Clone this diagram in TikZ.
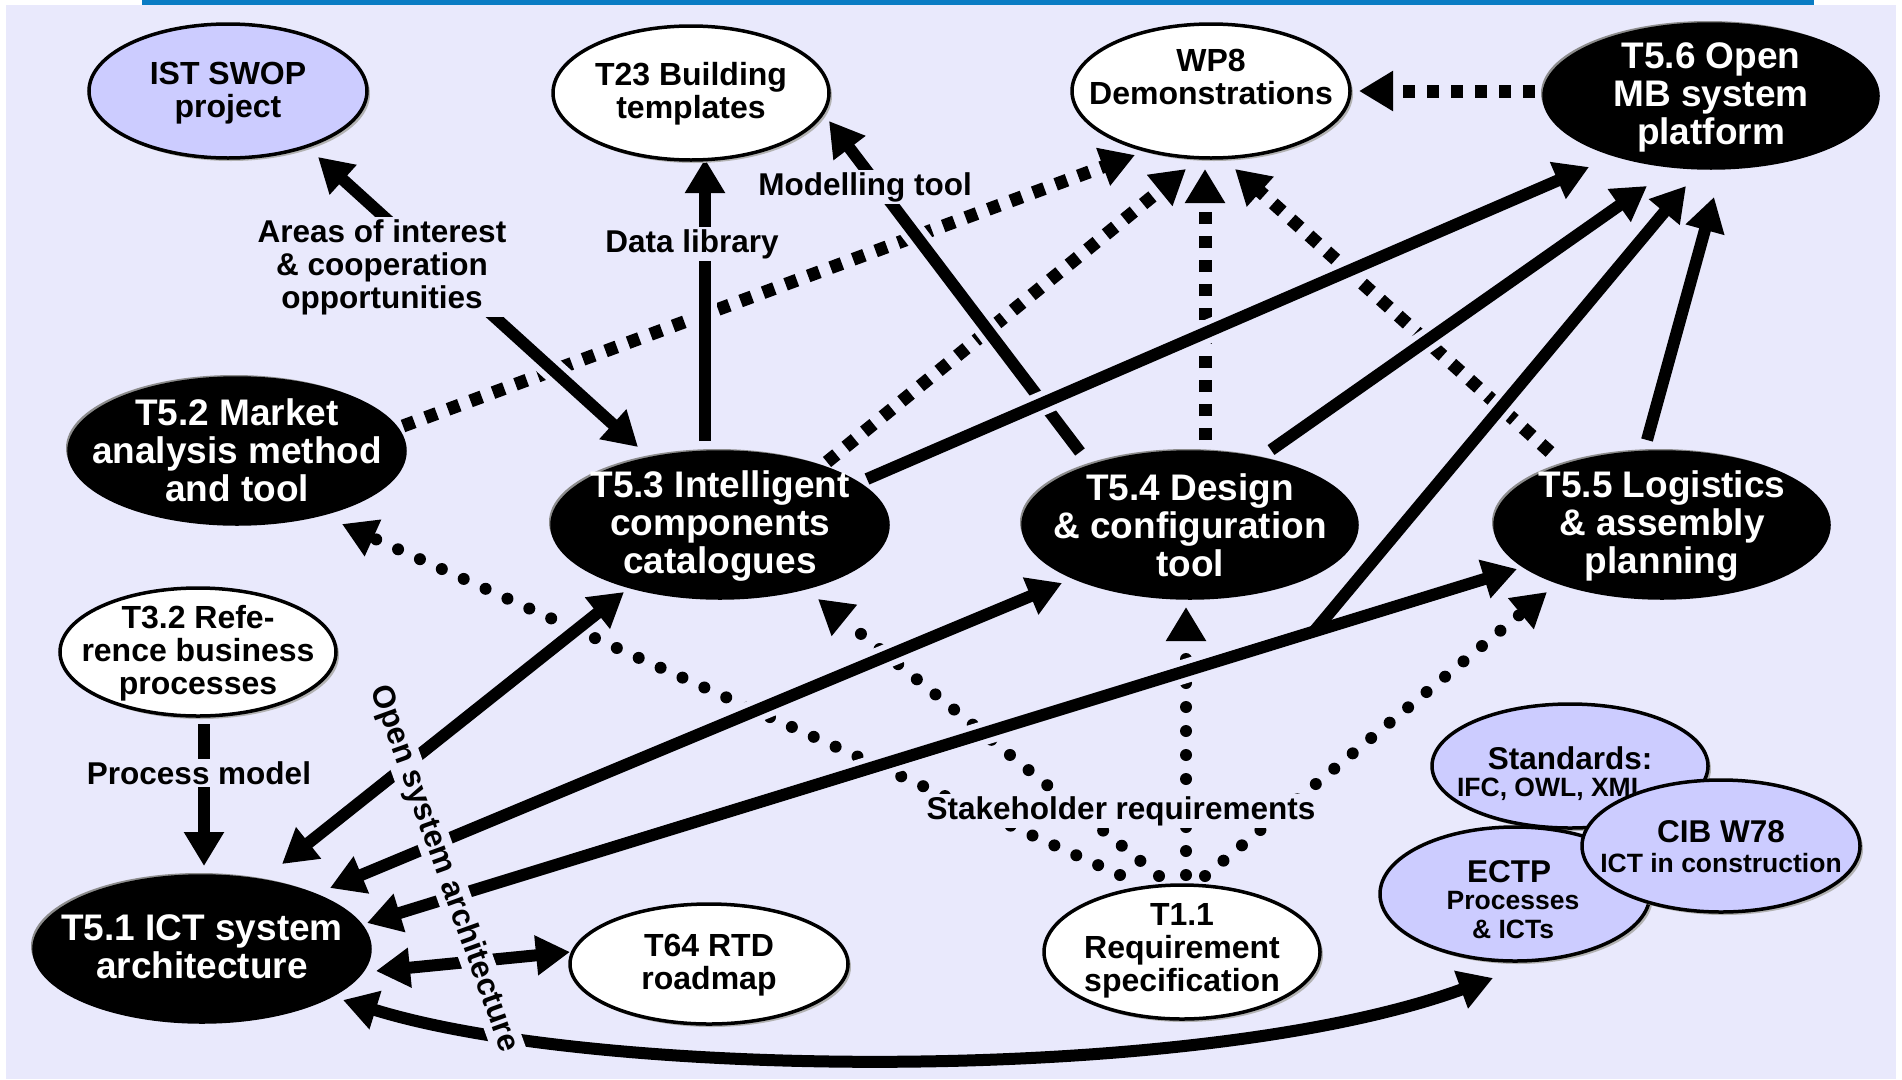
\documentclass[tikz,border=0pt]{standalone}
\usepackage{fontspec}
\setmainfont{Liberation Sans}
\usetikzlibrary{arrows.meta,shapes.geometric,calc,shadows}
\definecolor{bg}{RGB}{233,233,252}
\definecolor{lav}{RGB}{204,204,255}
\definecolor{topblue}{RGB}{10,124,196}
\pgfdeclarelayer{backdrop}
\pgfdeclarelayer{lines}
\pgfsetlayers{backdrop,lines,main}
\begin{document}
\begin{tikzpicture}[x=1pt,y=-1pt,
  >={Triangle[length=34pt,width=38pt]},
  ell/.style={ellipse, inner sep=0pt, outer sep=0pt, line width=3.5pt},
  whiteell/.style={ell, draw=black, fill=white, drop shadow={shadow xshift=3pt,shadow yshift=-3pt,fill=black!30,opacity=1}},
  lavell/.style={whiteell, fill=lav},
  blackell/.style={ell, draw=black, fill=black, drop shadow={shadow xshift=-3pt,shadow yshift=3pt,fill=black!45,opacity=1}},
  wtxt/.style={align=center, font=\bfseries\fontsize{32}{33}\selectfont, inner sep=0pt},
  btxt/.style={align=center, text=white, font=\bfseries\fontsize{37}{38}\selectfont, inner sep=0pt},
  mtxt/.style={align=center, font=\bfseries\fontsize{31.5}{33}\selectfont, inner sep=0pt},
  stxt/.style={align=center, font=\bfseries\fontsize{26.5}{29}\selectfont, inner sep=0pt},
  lbl/.style={align=center, fill=bg, font=\bfseries\fontsize{31.5}{33}\selectfont, inner sep=2pt},
  solidarr/.style={line width=12pt, preaction={draw=bg, line width=24pt, -}},
  halo/.style={draw=bg, line width=24pt},
  dasharr/.style={line width=13pt, dash pattern=on 12pt off 12pt, ->},
  dotarr/.style={line width=12pt, line cap=round, dash pattern=on 0pt off 24pt, ->},
]
\useasboundingbox (0,0) rectangle (1902,1079);
\begin{pgfonlayer}{backdrop}
\fill[white] (0,0) rectangle (1902,1079);
\fill[bg] (6,5) rectangle (1896,1079);
\fill[topblue] (142,0) rectangle (1814,5);
\end{pgfonlayer}

% ---------- ellipses ----------
\node[lavell, minimum width=278pt, minimum height=134pt] (ist) at (228,91) {};
\node[wtxt] (isttxt) at (228,93) {IST SWOP\\project};
\node[whiteell, minimum width=276pt, minimum height=134pt] (t23) at (691,93) {};
\node[wtxt] (t23txt) at (691,94) {T23 Building\\templates};
\node[whiteell, minimum width=278pt, minimum height=134pt] (wp8) at (1211,91) {};
\node[wtxt] (wp8txt) at (1211,77) {WP8\\Demonstrations};
\node[blackell, minimum width=334pt, minimum height=144pt] (t56) at (1711,96) {};
\node[btxt] (t56txt) at (1711,97) {T5.6 Open\\MB system\\platform};

\node[blackell, minimum width=336pt, minimum height=146pt] (t52) at (237,451) {};
\node[btxt] (t52txt) at (237,450) {T5.2 Market\\analysis method\\and tool};
\node[blackell, minimum width=336pt, minimum height=146pt] (t53) at (720,525) {};
\node[btxt] (t53txt) at (720,526) {T5.3 Intelligent\\components\\catalogues};
\node[blackell, minimum width=334pt, minimum height=146pt] (t54) at (1190,525) {};
\node[btxt] (t54txt) at (1190,525) {T5.4 Design\\\& configuration\\tool};
\node[blackell, minimum width=334pt, minimum height=146pt] (t55) at (1662,525) {};
\node[btxt] (t55txt) at (1662,526) {T5.5 Logistics\\\& assembly\\planning};

\node[whiteell, minimum width=276pt, minimum height=128pt] (t32) at (198,652) {};
\node[wtxt] (t32txt) at (198,653) {T3.2 Refe-\\rence business\\processes};
\node[blackell, minimum width=336pt, minimum height=146pt] (t51) at (202,949) {};
\node[btxt] (t51txt) at (202,947) {T5.1 ICT system\\architecture};
\node[whiteell, minimum width=278pt, minimum height=120pt] (t64) at (709,964) {};
\node[wtxt] (t64txt) at (709,965) {T64 RTD\\roadmap};
\node[whiteell, minimum width=276pt, minimum height=134pt] (t11) at (1182,952) {};
\node[wtxt] (t11txt) at (1182,951) {T1.1\\Requirement\\specification};

\node[lavell, minimum width=276pt, minimum height=124pt] (std) at (1570,766) {};
\node[mtxt] (stdtxt) at (1570,758) {Standards:};
\node[stxt] (stdsub) at (1552,789) {IFC, OWL, XML};
\node[lavell, minimum width=270pt, minimum height=134pt] (ectp) at (1515,894) {};
\node[mtxt] (ectptxt) at (1509,872) {ECTP};
\node[stxt] (ectpsub) at (1513,915) {Processes\\\& ICTs};
\node[lavell, minimum width=278pt, minimum height=132pt] (cib) at (1721,846) {};
\node[mtxt] (cibtxt) at (1721,832) {CIB W78};
\node[stxt] (cibsub) at (1721,863) {ICT in construction};

% ---------- connectors ----------
\begin{pgfonlayer}{lines}
% dashed
\draw[dasharr] ([shift={(166,-25)}]t52.center) -- ([shift={(-76,64)}]wp8.center);
\draw[dasharr] ([shift={(107,-63)}]t53.center) -- ([shift={(-25,78)}]wp8.center);
\draw[dasharr] ([shift={(15,-85)}]t54.center) -- ([shift={(-6,78)}]wp8.center);
\draw[dasharr] ([shift={(-112,-73)}]t55.center) -- ([shift={(24,78)}]wp8.center);
\draw[dasharr] ([shift={(-176,-5)}]t56.center) -- ([shift={(148,0)}]wp8.center);
% dotted
\draw[dotarr] ([shift={(-62,-77)}]t11.center) -- ([shift={(105,73)}]t52.center);
\draw[dotarr] ([shift={(-23,-76)}]t11.center) -- ([shift={(98,74)}]t53.center);
\draw[dotarr] ([shift={(4,-77)}]t11.center) -- ([shift={(-4,82)}]t54.center);
\draw[dotarr] ([shift={(23,-76)}]t11.center) -- ([shift={(-115,67)}]t55.center);
% solid
\draw[solidarr,<->] ([shift={(90,66)}]ist.center) -- ([shift={(-82,-78)}]t53.center);
\draw[solidarr,->] ([shift={(-15,-84)}]t53.center) -- ([shift={(14,66)}]t23.center);
\draw[solidarr,->] ([shift={(-110,-73)}]t54.center) -- ([shift={(138,28)}]t23.center);
\draw[solidarr,->] ([shift={(6,72)}]t32.center) -- ([shift={(2,-83)}]t51.center);
\draw[solidarr,<->] ([shift={(80,-85)}]t51.center) -- ([shift={(-96,67)}]t53.center);
\draw[solidarr,<->] ([shift={(128,-61)}]t51.center) -- ([shift={(-128,58)}]t54.center);
\draw[solidarr,<->] ([shift={(174,22)}]t51.center) -- ([shift={(-139,-12)}]t64.center);
\draw[solidarr,<->] ([shift={(141,51)}]t51.center) .. controls (600,1080) and (1200,1085) .. ([shift={(-22,84)}]ectp.center);
\draw[solidarr,->] ([shift={(147,-46)}]t53.center) -- ([shift={(-122,71)}]t56.center);
\draw[solidarr,->] ([shift={(81,-75)}]t54.center) -- ([shift={(-64,90)}]t56.center);
\draw[solidarr,->] ([shift={(-15,-85)}]t55.center) -- ([shift={(3,101)}]t56.center);
\coordinate (ja) at ([shift={(165,-26)}]t51.center);
\coordinate (jb) at ([shift={(-145,44)}]t55.center);
\coordinate (jn) at ($(ja)!0.8235!(jb)$);
\draw[halo] (ja) -- (jb);
\draw[halo] (jn) -- ([shift={(-25,90)}]t56.center);
\draw[line width=12pt,<->] (ja) -- (jb);
\draw[line width=12pt,->] (jn) -- ([shift={(-25,90)}]t56.center);
\end{pgfonlayer}

% ---------- labels ----------
\node[lbl] (lareas) at (382,267) {Areas of interest\\\& cooperation\\opportunities};
\node[lbl] (ldata) at (692,244) {Data library};
\node[lbl] (lmodel) at (865,187) {Modelling tool};
\node[lbl] (lproc) at (199,773) {Process model};
\node[lbl] (lstake) at (1121,811) {Stakeholder requirements};
\node[lbl, rotate=-70.2] (lopen) at (444,869) {Open system architecture};
\end{tikzpicture}
\end{document}
